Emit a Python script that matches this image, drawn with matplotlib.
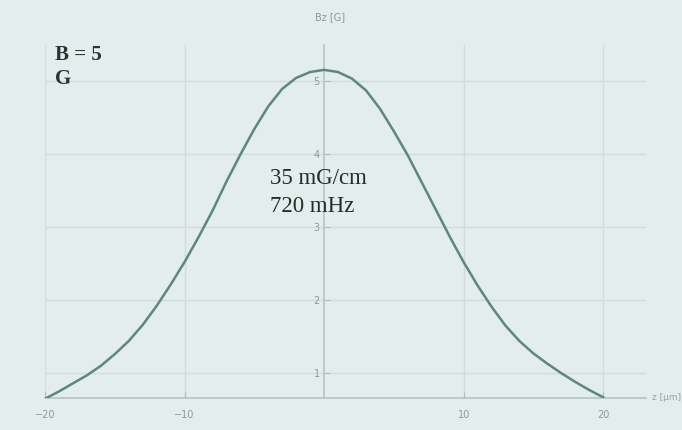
import matplotlib
matplotlib.use("Agg")
import matplotlib.pyplot as plt

# Data
z_um = [-20, -19, -18, -17, -16, -15, -14, -13, -12, -11, -10,
        -9, -8, -7, -6, -5, -4, -3, -2, -1, 0,
        1, 2, 3, 4, 5, 6, 7, 8, 9, 10,
        11, 12, 13, 14, 15, 16, 17, 18, 19, 20]
bz_G = [0.65, 0.75, 0.86, 0.97, 1.10, 1.26, 1.44, 1.66, 1.92, 2.21, 2.52,
        2.86, 3.22, 3.62, 3.99, 4.34, 4.65, 4.89, 5.04, 5.12, 5.15,
        5.12, 5.03, 4.87, 4.62, 4.31, 3.98, 3.61, 3.24, 2.87, 2.52,
        2.20, 1.91, 1.65, 1.44, 1.27, 1.13, 1.00, 0.88, 0.77, 0.67]
x_ticks = [-20, -10, 10, 20]
y_ticks = [1, 2, 3, 4, 5]
x_label = "z [μm]"
y_label = "Bz [G]"
note_field = "B = 5\nG"
note_params = "35 mG/cm\n720 mHz"

W, H = 682, 430
fig = plt.figure(figsize=(W / 100, H / 100), dpi=100)
bg = "#e3edeb"
fig.patch.set_facecolor(bg)

left_px, right_px = 45, 646
top_px, bottom_px = 45, 398
ax = fig.add_axes([left_px / W, 1 - bottom_px / H,
                   (right_px - left_px) / W, (bottom_px - top_px) / H])
ax.set_facecolor(bg)
ax.set_xlim(-20, 20 + (right_px - 603) / 14.0)
ax.set_ylim(0.66, 5.49)

ax.set_xticks(x_ticks)
ax.set_yticks(y_ticks)
ax.grid(True, color="#d2dcda", linewidth=1.0)

ax.plot(z_um, bz_G, color="#5b8883", linewidth=1.8, zorder=3)

for s in ["top", "right"]:
    ax.spines[s].set_visible(False)
ax.spines["left"].set_position(("data", 0))
ax.spines["bottom"].set_color("#b8c4c2")
ax.spines["left"].set_color("#b8c4c2")
ax.spines["left"].set_linewidth(1.2)
ax.spines["bottom"].set_linewidth(1.2)

ax.tick_params(axis="both", colors="#b0bcba", labelcolor="#8e9a98",
               labelsize=7, length=4, direction="in")
ax.tick_params(axis="x", pad=9)
ax.tick_params(axis="y", pad=3)

fig.text(652 / W, 1 - 397 / H, x_label, fontsize=6.5, color="#98a4a2",
         ha="left", va="center")
fig.text(330 / W, 1 - 17 / H, y_label, fontsize=7, color="#8e9a98",
         ha="center", va="center")

fig.text(55 / W, 1 - 45 / H, note_field, fontsize=15, fontweight="bold",
         family="Liberation Serif", color="#2c3432", ha="left", va="top",
         linespacing=1.3)
fig.text(270 / W, 1 - 168 / H, note_params, fontsize=16.5,
         family="Liberation Serif", color="#252d2b", ha="left", va="top",
         linespacing=1.45)

fig.savefig("out.png", dpi=100, facecolor=bg)
